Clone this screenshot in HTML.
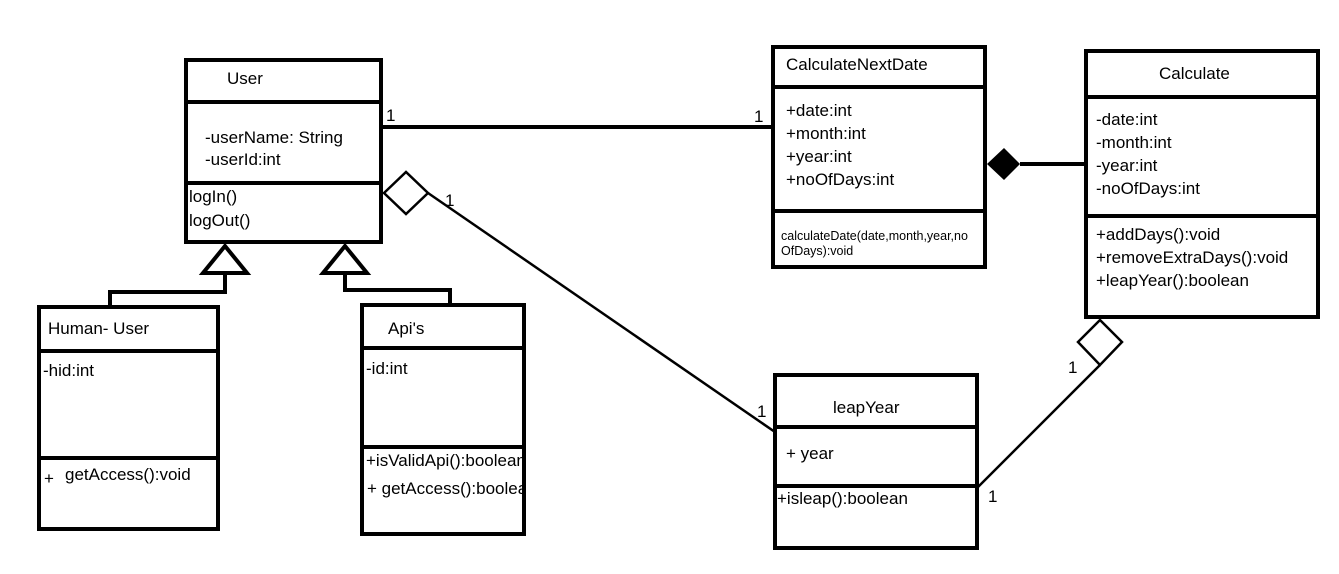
<!DOCTYPE html>
<html><head><style>
html,body{margin:0;padding:0;background:#fff;}
svg text{font-family:"Liberation Sans",sans-serif;font-size:17px;fill:#000;}
</style></head><body>
<svg width="1339" height="569" viewBox="0 0 1339 569" xmlns="http://www.w3.org/2000/svg">
<g fill="none" stroke="#000" stroke-width="4">
<rect x="186" y="60" width="195" height="182"/>
<line x1="186" y1="102" x2="381" y2="102"/>
<line x1="186" y1="183" x2="381" y2="183"/>
<rect x="773" y="47" width="212" height="220"/>
<line x1="773" y1="87" x2="985" y2="87"/>
<line x1="773" y1="211" x2="985" y2="211"/>
<rect x="1086" y="51" width="232" height="266"/>
<line x1="1086" y1="97" x2="1318" y2="97"/>
<line x1="1086" y1="216" x2="1318" y2="216"/>
<rect x="39" y="307" width="179" height="222"/>
<line x1="39" y1="351" x2="218" y2="351"/>
<line x1="39" y1="458" x2="218" y2="458"/>
<rect x="362" y="305" width="162" height="229"/>
<line x1="362" y1="348" x2="524" y2="348"/>
<line x1="362" y1="447" x2="524" y2="447"/>
<rect x="775" y="375" width="202" height="173"/>
<line x1="775" y1="427" x2="977" y2="427"/>
<line x1="775" y1="486" x2="977" y2="486"/>
<polygon points="225,246 203,273 247,273"/>
<polyline points="225,273 225,292 110,292 110,307"/>
<polygon points="345,246 323,273 367,273"/>
<polyline points="345,273 345,290 450,290 450,305"/>
<line x1="381" y1="127" x2="773" y2="127"/>
<line x1="1020" y1="164" x2="1086" y2="164"/>
</g>
<g fill="none" stroke="#000" stroke-width="2.5">
<polygon points="384,193 406,172 428,193 406,214"/>
<line x1="428" y1="193" x2="775" y2="432"/>
<polygon points="1100,320 1122,342 1100,365 1078,342"/>
<line x1="1100" y1="365" x2="978" y2="487"/>
</g>
<polygon points="987,164 1004,148 1020,164 1004,180" fill="#000"/>
<text x="227" y="84">User</text>
<text x="205" y="143">-userName: String</text>
<text x="205" y="165">-userId:int</text>
<text x="189" y="202">logIn()</text>
<text x="189" y="226">logOut()</text>
<text x="386" y="121">1</text>
<text x="754" y="122">1</text>
<text x="445" y="206">1</text>
<text x="757" y="417">1</text>
<text x="1068" y="373">1</text>
<text x="988" y="502">1</text>
<text x="786" y="70">CalculateNextDate</text>
<text x="786" y="116">+date:int</text>
<text x="786" y="139">+month:int</text>
<text x="786" y="162">+year:int</text>
<text x="786" y="185">+noOfDays:int</text>
<text x="781" y="240" style="font-size:12.5px">calculateDate(date,month,year,no</text>
<text x="781" y="255" style="font-size:12.5px">OfDays):void</text>
<text x="1159" y="79">Calculate</text>
<text x="1096" y="125">-date:int</text>
<text x="1096" y="148">-month:int</text>
<text x="1096" y="171">-year:int</text>
<text x="1096" y="194">-noOfDays:int</text>
<text x="1096" y="240">+addDays():void</text>
<text x="1096" y="263">+removeExtraDays():void</text>
<text x="1096" y="286">+leapYear():boolean</text>
<text x="48" y="334">Human- User</text>
<text x="43" y="376">-hid:int</text>
<text x="44" y="484">+</text>
<text x="65" y="480">getAccess():void</text>
<text x="388" y="334">Api's</text>
<text x="366" y="374">-id:int</text>
<text x="366" y="466">+isValidApi():boolean</text>
<text x="367" y="494">+ getAccess():boolean</text>
<text x="833" y="413">leapYear</text>
<text x="786" y="459">+ year</text>
<text x="777" y="504">+isleap():boolean</text>
<rect x="526" y="450" width="40" height="60" fill="#fff"/>
</svg>
</body></html>
